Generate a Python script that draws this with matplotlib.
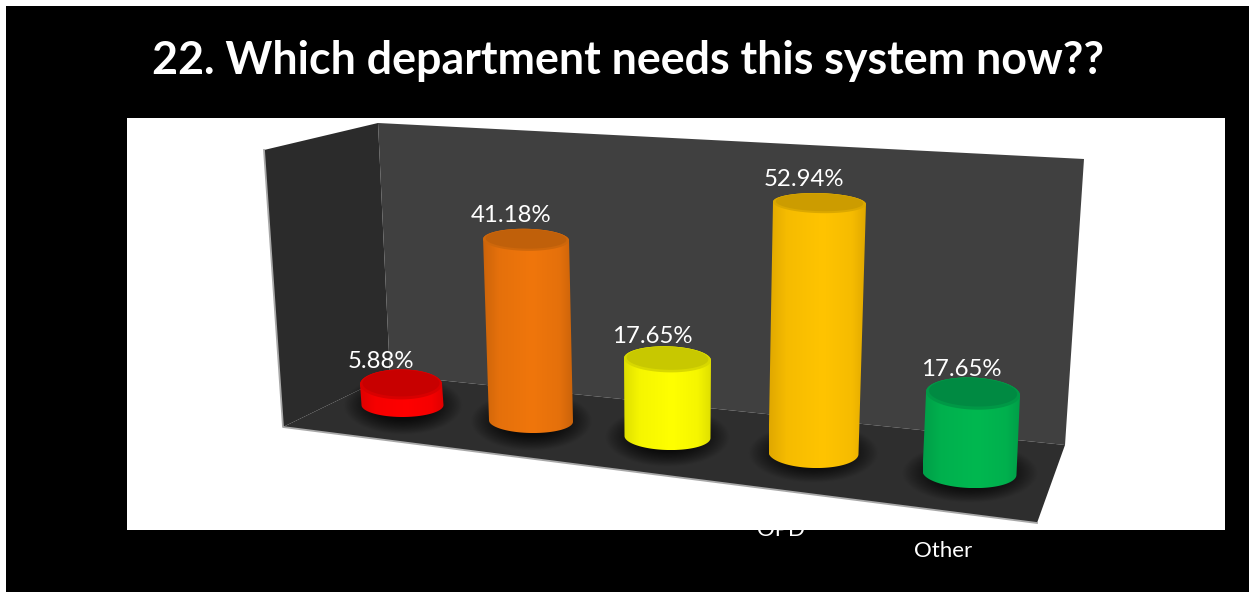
import numpy as np
import matplotlib
matplotlib.use('Agg')
import matplotlib.pyplot as plt
from matplotlib.colors import LinearSegmentedColormap, to_rgb
from matplotlib.patches import Polygon, Rectangle

plt.rcParams['font.family'] = ['Lato', 'DejaVu Sans']

title = '22. Which department needs this system now??'
values = [5.88, 41.18, 17.65, 52.94, 17.65]
axis_labels = ['OPD', 'Other']

main_colors = ['#ff0000', '#f0760c', '#ffff00', '#ffc400', '#00b850']
edge_colors = ['#e00000', '#cc640a', '#e0e000', '#e0a800', '#009e48']
cap_colors = ['#c80000', '#c0600a', '#c8c800', '#cc9c00', '#008a42']

# perspective layout of the cylinders, in pixels
base_x = [402.5, 531, 667.5, 813.5, 969.5]
base_y = [405, 421, 437, 453, 473]
px_per_pct = [3.5, 4.4, 4.4, 4.72, 4.5]
lean_per_pct = [-0.25, -0.12, 0.0, 0.113, 0.2]
half_w_bottom = [41, 42, 43, 45, 47]
half_w_top = [41, 43, 43.5, 46.5, 47]
ry_bottom = [12, 12, 13, 15, 15]
ry_top = [15, 11, 13, 10, 16]
tilt = [0, 1, 1.5, 1.5, 2.5]
label_dx = [-20, -15, -15, -16, -12]
label_dy = [-23, -24, -23, -24, -24]


def ellipse_xy(cx, cy, a, b, deg, t):
    r = np.radians(deg)
    x = a * np.cos(t)
    y = b * np.sin(t)
    return cx + x * np.cos(r) - y * np.sin(r), cy + x * np.sin(r) + y * np.cos(r)


def fill_poly(ax, xs, ys, **kw):
    p = Polygon(np.column_stack([xs, ys]), closed=True, **kw)
    ax.add_patch(p)
    return p


fig = plt.figure(figsize=(12.49, 5.92), dpi=100, facecolor='white')
ax = fig.add_axes([0, 0, 1, 1])
ax.axis('off')

ax.add_patch(Rectangle((6, 6), 1243, 586, fc='black', ec='none', zorder=0))
ax.add_patch(Rectangle((127, 118), 1098, 412, fc='white', ec='none', zorder=1))

# box walls and floor
left_wall = np.array([(264, 150), (378, 123), (390, 375), (283, 427)])
back_wall = np.array([(378, 123), (1084, 159), (1065, 445), (390, 375)])
floor = np.array([(283, 427), (390, 375), (1065, 445), (1037, 523)])
ax.add_patch(Polygon(left_wall, fc='#2b2b2b', ec='none', zorder=2))
ax.add_patch(Polygon(back_wall, fc='#404040', ec='none', zorder=2))
ax.add_patch(Polygon(floor, fc='#2e2e2e', ec='none', zorder=2))
ax.plot([264, 283, 1037], [150, 427, 523], color='#a8a8a8', lw=1.3, zorder=3)

t_front = np.linspace(0, np.pi, 80)
t_back = np.linspace(np.pi, 2 * np.pi, 80)
t_all = np.linspace(0, 2 * np.pi, 160)

for i, val in enumerate(values):
    x0, y0 = base_x[i], base_y[i]
    x1 = x0 + lean_per_pct[i] * val
    y1 = y0 - px_per_pct[i] * val
    a0, a1 = half_w_bottom[i], half_w_top[i]

    # soft shadow on the floor
    gx = np.linspace(x0 - a0 * 1.7, x0 + a0 * 1.7, 120)
    gy = np.linspace(y0 - 34, y0 + 34, 70)
    X, Y = np.meshgrid(gx, gy)
    d = ((X - x0) / (a0 * 1.45)) ** 2 + ((Y - y0) / 30.0) ** 2
    shadow = np.zeros(d.shape + (4,))
    shadow[..., 3] = np.clip(1.3 * (1 - d), 0, 1) * 0.75
    ax.imshow(shadow, extent=[gx[0], gx[-1], gy[-1], gy[0]], aspect='auto', zorder=4, interpolation='bilinear')

    # cylinder body with a horizontal shading
    bx, by = ellipse_xy(x0, y0, a0, ry_bottom[i], tilt[i], t_front)
    tx, ty = ellipse_xy(x1, y1, a1, ry_top[i], tilt[i], t_back)
    body = np.column_stack([np.r_[bx, tx], np.r_[by, ty]])
    clip = Polygon(body, closed=True, fc='none', ec='none', zorder=5)
    ax.add_patch(clip)
    side_mix = np.array(to_rgb(main_colors[i])) * 0.7 + np.array(to_rgb(edge_colors[i])) * 0.3
    cmap = LinearSegmentedColormap.from_list('c', [(0, edge_colors[i]), (0.18, side_mix), (0.55, main_colors[i]),
                                                   (0.85, side_mix), (1, edge_colors[i])])
    ramp = np.linspace(0, 1, 200).reshape(1, -1)
    im = ax.imshow(ramp, cmap=cmap, aspect='auto', zorder=5,
                   extent=[body[:, 0].min(), body[:, 0].max(), body[:, 1].max(), body[:, 1].min()])
    im.set_clip_path(clip)

    # top face: bevel rim then the darker flat
    rx, ry = ellipse_xy(x1, y1, a1, ry_top[i], tilt[i], t_all)
    mix = np.array(to_rgb(main_colors[i])) * 0.3 + np.array(to_rgb(cap_colors[i])) * 0.7
    fill_poly(ax, rx, ry, fc=mix, ec='none', zorder=6)
    rx, ry = ellipse_xy(x1, y1 - ry_top[i] * 0.08, a1 * 0.94, ry_top[i] * 0.88, tilt[i], t_all)
    fill_poly(ax, rx, ry, fc=cap_colors[i], ec='none', zorder=7)

    ax.text(x1 + label_dx[i], y1 + label_dy[i], f'{val:.2f}%', color='white', fontsize=17.3,
            ha='center', va='center', zorder=9)

ax.text(628, 61, title, color='white', fontsize=32.2, fontweight='bold', ha='center', va='center', zorder=9)
# white text, so the part over the white panel does not show
ax.text(781, 530, axis_labels[0], color='white', fontsize=16, ha='center', va='center', zorder=0.5)
ax.text(943, 551, axis_labels[1], color='white', fontsize=16, ha='center', va='center', zorder=9)

ax.set_xlim(0, 1249)
ax.set_ylim(592, 0)
fig.savefig('out.png', dpi=100, facecolor='white')
